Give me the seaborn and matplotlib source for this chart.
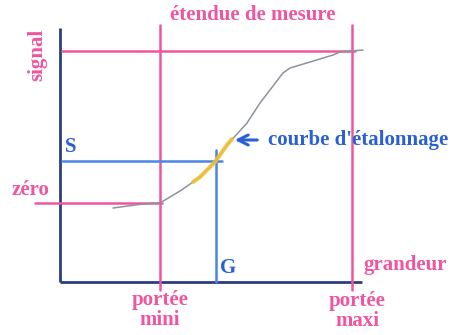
import matplotlib
matplotlib.use("Agg")
import matplotlib.pyplot as plt
import seaborn as sns
import pandas as pd

sns.set_theme(style="white")
plt.rcParams['font.family'] = ['Liberation Serif', 'DejaVu Serif']

# calibration curve (grandeur, signal), arbitrary units
curve_x = [53, 83, 100, 105, 120, 133, 140, 155, 167, 187, 200, 223, 230, 250, 273, 280, 303]
curve_y = [74, 78, 79, 82, 91, 100, 105, 120, 137, 159, 179, 209, 214, 220, 227, 230, 232]
# highlighted part of the curve (around the operating point)
hl_x = [133, 140, 155, 167, 172]
hl_y = [100, 105, 120, 137, 143]

portee_mini = 100
portee_maxi = 292
zero_level = 79
max_level = 231
S_level = 121
G_value = 156

PINK = "#f0559f"
DARK = "#2b3f7c"
BLUE = "#4a86e3"
TBLUE = "#2a5fd6"

fig = plt.figure(figsize=(4.57, 3.35), dpi=100)
ax = fig.add_axes([0, 0, 1, 1])

# axes of the diagram
ax.plot([0, 0], [0, 254], color=DARK, lw=2.0, solid_capstyle="butt")
ax.plot([0, 302], [0, 0], color=DARK, lw=2.0, solid_capstyle="butt")

# range lines
ax.plot([portee_mini, portee_mini], [-8, 257], color=PINK, lw=1.8)
ax.plot([portee_maxi, portee_maxi], [-8, 257], color=PINK, lw=1.8)
ax.plot([2, 295], [max_level, max_level], color=PINK, lw=1.8)
ax.plot([-25, 102], [zero_level, zero_level], color=PINK, lw=1.8)

# operating point
ax.plot([2, 162], [S_level, S_level], color=BLUE, lw=1.8)
ax.plot([G_value, G_value], [0, 132], color=BLUE, lw=1.8)

# curve
df = pd.DataFrame({"x": curve_x, "y": curve_y})
sns.lineplot(data=df, x="x", y="y", ax=ax, color="#8c939c", lw=1.1, sort=False)
dh = pd.DataFrame({"x": hl_x, "y": hl_y})
sns.lineplot(data=dh, x="x", y="y", ax=ax, color="#f2c232", lw=3.0, sort=False, alpha=0.85)
ax.set_xlim(-60, 397)
ax.set_ylim(-53, 282)
ax.axis("off")

# arrow
ax.annotate("", xy=(172, 142), xytext=(200, 142),
            arrowprops=dict(arrowstyle="->", color=TBLUE, lw=2.2, mutation_scale=18))

fs = 15
fkw = dict(fontweight="bold", fontsize=fs)
ax.text(193, 267, "étendue de mesure", color=PINK, ha="center", va="center", **fkw)
ax.text(-23, 227, "signal", color=PINK, ha="center", va="center", rotation=90, **fkw)
ax.text(5, 135, "S", color=TBLUE, ha="left", va="center", **fkw)
ax.text(-48, 92, "zéro", color=PINK, ha="left", va="center", **fkw)
ax.text(160, 14, "G", color=TBLUE, ha="left", va="center", **fkw)
ax.text(303, 17, "grandeur", color=PINK, ha="left", va="center", **fkw)
ax.text(208, 142, "courbe d'étalonnage", color=TBLUE, ha="left", va="center", **fkw)
ax.text(portee_mini, -28, "portée\nmini", color=PINK, ha="center", va="center",
        linespacing=1.05, **fkw)
ax.text(portee_maxi + 5, -29, "portée\nmaxi", color=PINK, ha="center", va="center",
        linespacing=1.05, **fkw)

fig.savefig("out.png", dpi=100)
